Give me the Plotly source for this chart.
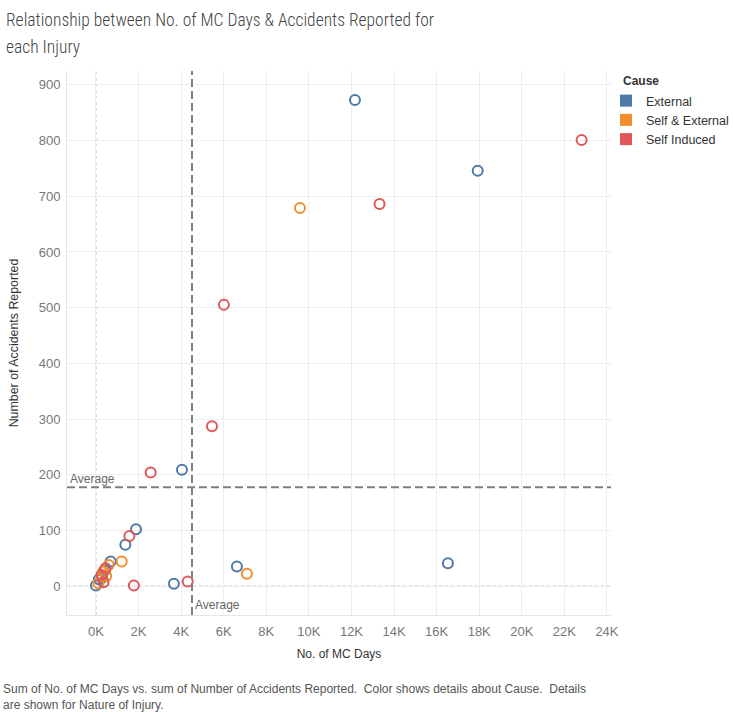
import plotly.graph_objects as go

# ---- data ----
causes = ["External", "Self & External", "Self Induced"]
colors = {"External": "#4e79a7", "Self & External": "#f28e2b", "Self Induced": "#e15759"}

external_mc_days = [12165, 17930, 4040, 1880, 1380, 690, 16530, 6620, 3660, 140, 0, 420, 300]
external_accidents = [873, 746, 209, 102, 74, 44, 41, 35, 4, 12, 1, 28, 15]

self_ext_mc_days = [9580, 7090, 1210, 340, 270, 110, 600, 480]
self_ext_accidents = [679, 22, 44, 26, 17, 5, 38, 18]

self_ind_mc_days = [22810, 13320, 6010, 5450, 2570, 1570, 1780, 4310, 450, 260, 355]
self_ind_accidents = [801, 686, 505, 287, 204, 90, 1, 8, 32, 20, 7]

x_tick_vals = [0, 2000, 4000, 6000, 8000, 10000, 12000, 14000, 16000, 18000, 20000, 22000, 24000]
x_tick_text = ["0K", "2K", "4K", "6K", "8K", "10K", "12K", "14K", "16K", "18K", "20K", "22K", "24K"]
y_tick_vals = [0, 100, 200, 300, 400, 500, 600, 700, 800, 900]

title_lines = ["Relationship between No. of MC Days & Accidents Reported for", "each Injury"]
caption = ("Sum of No. of MC Days vs. sum of Number of Accidents Reported.  Color shows details about Cause.  Details"
           "<br>are shown for Nature of Injury.")

series = {
    "External": (external_mc_days, external_accidents),
    "Self & External": (self_ext_mc_days, self_ext_accidents),
    "Self Induced": (self_ind_mc_days, self_ind_accidents),
}

all_x = external_mc_days + self_ext_mc_days + self_ind_mc_days
all_y = external_accidents + self_ext_accidents + self_ind_accidents
avg_x = sum(all_x) / len(all_x)
avg_y = sum(all_y) / len(all_y)

FONT = "Liberation Sans, Arial"
TFONT = "Roboto Condensed, Roboto, Arial"
W, H = 733, 712
L, R, T, B = 67, 122, 71, 97
PW, PH = W - L - R, H - T - B


def px_x(px):
    return (px - L) / PW


def px_y(py):
    return (H - B - py) / PH


fig = go.Figure()

for cause in causes:
    xs, ys = series[cause]
    fig.add_trace(go.Scatter(
        x=xs, y=ys, mode="markers", name=cause, showlegend=False,
        marker=dict(symbol="circle-open", size=10, color=colors[cause], line=dict(width=2, color=colors[cause])),
    ))
# legend entries (square swatches)
for cause in causes:
    fig.add_trace(go.Scatter(
        x=[None], y=[None], mode="markers", name=cause,
        marker=dict(symbol="square", size=10.5, color=colors[cause]),
    ))

# zero lines (dotted)
fig.add_shape(type="line", xref="x", yref="paper", x0=0, x1=0, y0=0, y1=1,
              line=dict(color="#b8b8b8", width=1, dash="dot"), layer="below")
fig.add_shape(type="line", xref="paper", yref="y", x0=0, x1=1, y0=0, y1=0,
              line=dict(color="#b8b8b8", width=1, dash="dot"), layer="below")
# average lines
fig.add_shape(type="line", xref="x", yref="paper", x0=avg_x, x1=avg_x, y0=0, y1=1,
              line=dict(color="#808080", width=2, dash="8px,4px"))
fig.add_shape(type="line", xref="paper", yref="y", x0=0, x1=1, y0=avg_y, y1=avg_y,
              line=dict(color="#808080", width=2, dash="8px,4px"))

fig.add_annotation(xref="paper", yref="y", x=0, y=avg_y, text="Average", showarrow=False,
                   xanchor="left", yanchor="bottom", xshift=1, yshift=-1,
                   font=dict(family=FONT, size=12, color="#666666"))
fig.add_annotation(xref="x", yref="paper", x=avg_x, y=0, text="Average", showarrow=False,
                   xanchor="left", yanchor="bottom", xshift=1, yshift=1,
                   font=dict(family=FONT, size=12, color="#666666"))

# title (two lines)
fig.add_annotation(xref="paper", yref="paper", x=px_x(4), y=px_y(20), text=title_lines[0], showarrow=False,
                   xanchor="left", yanchor="middle", font=dict(family=TFONT, size=17.5, color="#444444", weight=300))
fig.add_annotation(xref="paper", yref="paper", x=px_x(4), y=px_y(47), text=title_lines[1], showarrow=False,
                   xanchor="left", yanchor="middle", font=dict(family=TFONT, size=17.5, color="#444444", weight=300))

# legend title
fig.add_annotation(xref="paper", yref="paper", x=px_x(621), y=px_y(81), text="<b>Cause</b>", showarrow=False,
                   xanchor="left", yanchor="middle", font=dict(family=FONT, size=12, color="#333333"))

# caption
fig.add_annotation(xref="paper", yref="paper", x=px_x(1), y=px_y(680), text=caption,
                   showarrow=False, xanchor="left", yanchor="top", align="left",
                   font=dict(family=FONT, size=12, color="#555555"))

fig.update_layout(
    width=W, height=H,
    margin=dict(l=L, r=R, t=T, b=B, autoexpand=False),
    paper_bgcolor="white", plot_bgcolor="white",
    legend=dict(x=px_x(606), xanchor="left", y=px_y(86), yanchor="top",
                font=dict(family=FONT, size=12.5, color="#333333"), tracegroupgap=0,
                itemsizing="constant", borderwidth=0, bgcolor="rgba(0,0,0,0)"),
    font=dict(family=FONT),
)
fig.update_xaxes(range=[-1360, 24190], tickvals=x_tick_vals, ticktext=x_tick_text,
                 showgrid=True, gridcolor="#eeeeee", zeroline=False,
                 showline=True, linecolor="#e6e6e6", ticklabelstandoff=4,
                 tickfont=dict(family=FONT, size=13, color="#777777"),
                 title=dict(text="No. of MC Days", font=dict(family=FONT, size=12, color="#333333"), standoff=12))
fig.update_yaxes(range=[-52, 925], tickvals=y_tick_vals,
                 showgrid=True, gridcolor="#eeeeee", zeroline=False,
                 showline=True, linecolor="#e6e6e6", ticklabelstandoff=3,
                 tickfont=dict(family=FONT, size=13, color="#777777"),
                 title=dict(text="Number of Accidents Reported", font=dict(family=FONT, size=12.4, color="#333333"), standoff=17))

fig.write_html("out.html", config={"displayModeBar": False}, post_script="document.body.style.margin='0';")
